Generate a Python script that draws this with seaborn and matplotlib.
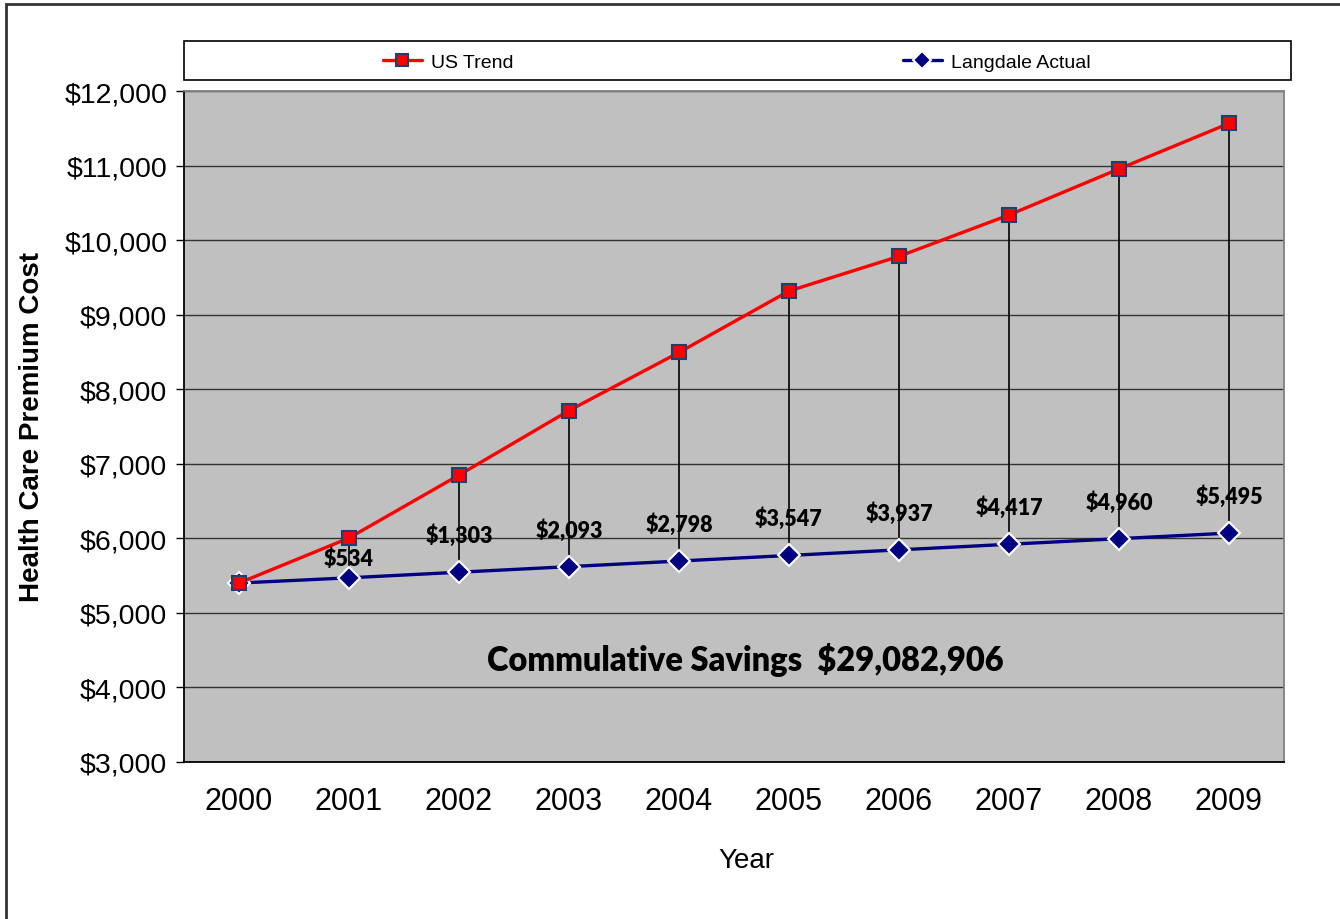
import matplotlib.pyplot as plt
import matplotlib.patches as mpatches
import pandas as pd
import seaborn as sns
from matplotlib.ticker import FuncFormatter

# Data
years = [2000, 2001, 2002, 2003, 2004, 2005, 2006, 2007, 2008, 2009]
us_trend = [5400, 6004, 6848, 7713, 8493, 9317, 9782, 10337, 10955, 11565]
langdale_actual = [5400, 5470, 5545, 5620, 5695, 5770, 5845, 5920, 5995, 6070]
savings_labels = ["$534", "$1,303", "$2,093", "$2,798", "$3,547",
                  "$3,937", "$4,417", "$4,960", "$5,495"]
total_savings = "$29,082,906"

df = pd.DataFrame({"Year": years, "US Trend": us_trend, "Langdale Actual": langdale_actual})

sns.set_style("white")
plt.rcParams["font.family"] = ["Liberation Sans", "DejaVu Sans"]
plt.rcParams.update({"text.color": "black", "axes.labelcolor": "black",
                     "xtick.color": "black", "ytick.color": "black"})

fig = plt.figure(figsize=(13.4, 9.2), dpi=100)

# outer chart border and legend strip (behind everything)
fig.patches.append(mpatches.Rectangle((0.0045, -0.05), 1.1, 1.0445, transform=fig.transFigure,
                                      facecolor="none", edgecolor="#333333", linewidth=2, zorder=-2))
fig.patches.append(mpatches.Rectangle((0.1373, 0.912), 0.826, 0.0424, transform=fig.transFigure,
                                      facecolor="white", edgecolor="black", linewidth=1.2, zorder=-1))

ax = fig.add_axes([0.1373, 0.1707, 0.8209, 0.7293])
ax.set_facecolor("#C0C0C0")

# high-low lines between the two series
ax.vlines(df["Year"], df["Langdale Actual"], df["US Trend"], color="black", linewidth=1.2, zorder=2)

sns.lineplot(data=df, x="Year", y="US Trend", ax=ax, color="#FF0000", linewidth=2.4,
             marker="s", markersize=10, markerfacecolor="#FF0000", markeredgecolor="#1F3F6F",
             markeredgewidth=1.5, label="US Trend", zorder=4)
sns.lineplot(data=df, x="Year", y="Langdale Actual", ax=ax, color="#000080", linewidth=2.4,
             marker="D", markersize=11, markerfacecolor="#000080", markeredgecolor="white",
             markeredgewidth=1.5, label="Langdale Actual", zorder=3)

# savings labels above the Langdale points
for i, lab in enumerate(savings_labels):
    yr = years[i + 1]
    off = 14 if i == 0 else 27
    ax.annotate(lab, (yr, langdale_actual[i + 1]), xytext=(0, off), textcoords="offset points",
                ha="center", va="center", fontsize=15.5, fontweight="heavy",
                family=["Lato", "DejaVu Sans"], zorder=5)

ax.text(2004.6, 4380, "Commulative Savings  " + total_savings, ha="center", va="center",
        fontsize=23.5, fontweight="heavy", family=["Lato", "DejaVu Sans"], zorder=5)

ax.set_xlim(1999.5, 2009.5)
ax.set_ylim(3000, 12000)
ax.set_xticks(years)
ax.set_yticks(range(3000, 12001, 1000))
ax.yaxis.set_major_formatter(FuncFormatter(lambda v, p: f"${v:,.0f}"))
ax.grid(axis="y", color="#333333", linewidth=1)
ax.set_axisbelow(True)
ax.tick_params(axis="y", which="major", left=True, length=6, width=1, pad=6, labelsize=20.5)
ax.tick_params(axis="x", bottom=False, pad=14, labelsize=22)
for s in ["top", "right"]:
    ax.spines[s].set_color("#808080")
ax.spines["left"].set_color("black")
ax.spines["bottom"].set_color("black")
for s in ax.spines.values():
    s.set_linewidth(1.3)

ax.set_xlabel("Year", fontsize=20)
ax.xaxis.set_label_coords(0.511, -0.127)
ax.set_ylabel("Health Care Premium Cost", fontsize=20, fontweight="bold", labelpad=14)

ax.legend(loc="center", bbox_to_anchor=(0.55, 0.931), bbox_transform=fig.transFigure, ncol=2,
          frameon=False, fontsize=14, columnspacing=20, handlelength=2, handletextpad=0.5,
          markerscale=0.8)

plt.savefig("out.png", dpi=100)
